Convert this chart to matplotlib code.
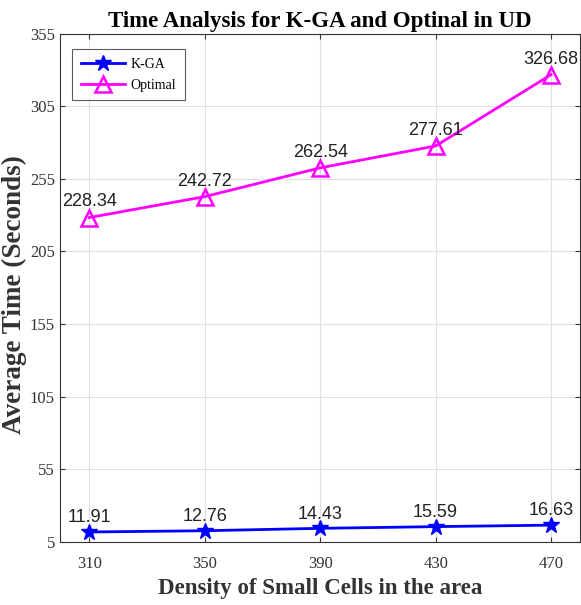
import matplotlib
matplotlib.use("Agg")
import matplotlib.pyplot as plt

density = [310, 350, 390, 430, 470]
kga_time = [11.91, 12.76, 14.43, 15.59, 16.63]
optimal_time = [228.34, 242.72, 262.54, 277.61, 326.68]
yticks = [5, 55, 105, 155, 205, 255, 305, 355]

fig = plt.figure(figsize=(5.81, 6.05), dpi=100)
ax = fig.add_axes([0.1041, 0.1041, 0.894, 0.8405])

ax.plot(density, kga_time, color='blue', lw=2, marker='*', ms=12,
        markeredgecolor='blue', markerfacecolor='blue', label='K-GA')
ax.plot(density, optimal_time, color='magenta', lw=2, marker='^', ms=11,
        markerfacecolor='none', markeredgewidth=1.8, label='Optimal')

for x, y in zip(density, kga_time):
    ax.annotate(f"{y:.2f}", (x, y), xytext=(0, 7), textcoords='offset points',
                ha='center', fontsize=13, family='Liberation Sans', color='#222222')
for x, y in zip(density, optimal_time):
    ax.annotate(f"{y:.2f}", (x, y), xytext=(0, 8), textcoords='offset points',
                ha='center', fontsize=13, family='Liberation Sans', color='#222222')

ax.set_xlim(300, 480)
ax.set_ylim(5, 355)
ax.set_xticks(density)
ax.set_yticks(yticks)
ax.grid(True, color='#e0e0e0', lw=0.8)
ax.tick_params(direction='in', top=True, right=True, labelsize=12, colors='#333333',
               labelcolor='#333333')
ax.tick_params(axis='x', pad=10)
ax.tick_params(axis='y', pad=4)
for lab in ax.get_xticklabels() + ax.get_yticklabels():
    lab.set_family('Liberation Serif')
for s in ax.spines.values():
    s.set_color('#333333')

ax.set_title('Time Analysis for K-GA and Optinal in UD', family='Liberation Serif',
             fontweight='bold', fontsize=16.5, pad=5)
ax.set_xlabel('Density of Small Cells in the area', family='Liberation Serif',
              fontweight='bold', fontsize=16.5, color='#333333')
ax.xaxis.set_label_coords(0.5, -0.07)
ax.set_ylabel('Average Time (Seconds)', family='Liberation Serif',
              fontweight='bold', fontsize=19.5, color='#333333')
ax.yaxis.set_label_coords(-0.064, 0.486)

leg = ax.legend(loc='upper left', prop={'family': 'Liberation Serif', 'size': 10},
                fancybox=False, edgecolor='#333333', handlelength=3.2,
                handletextpad=0.4, bbox_to_anchor=(0.023, 0.969),
                borderaxespad=0, borderpad=0.6, labelspacing=0.6)
leg.get_frame().set_linewidth(0.8)

fig.savefig('out.png', dpi=100)
